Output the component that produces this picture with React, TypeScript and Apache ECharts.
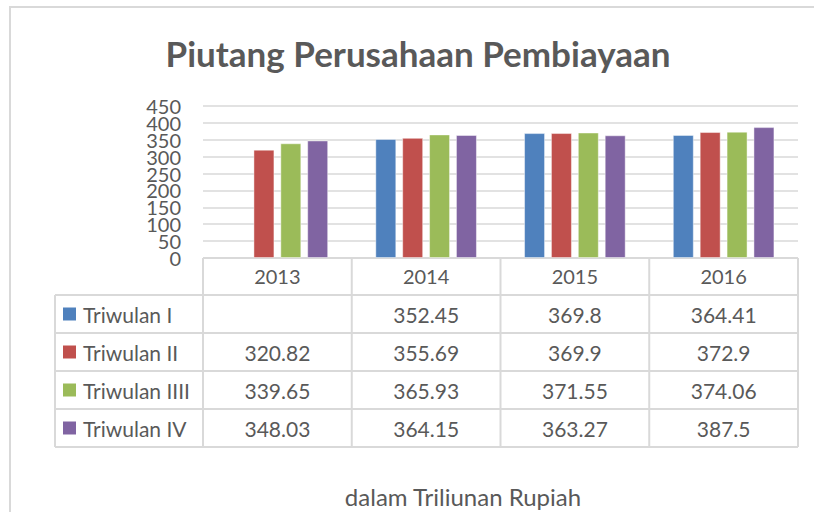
import React, { useEffect, useRef } from "react";
import * as echarts from "echarts";

const title = "Piutang Perusahaan Pembiayaan";
const footnote = "dalam Triliunan Rupiah";
const years = ["2013", "2014", "2015", "2016"];
const seriesNames = ["Triwulan I", "Triwulan II", "Triwulan IIII", "Triwulan IV"];
const triwulanI: (number | null)[] = [null, 352.45, 369.8, 364.41];
const triwulanII: (number | null)[] = [320.82, 355.69, 369.9, 372.9];
const triwulanIII: (number | null)[] = [339.65, 365.93, 371.55, 374.06];
const triwulanIV: (number | null)[] = [348.03, 364.15, 363.27, 387.5];
const colors = ["#4F81BD", "#C0504D", "#9BBB59", "#8064A2"];
const yTicks = [0, 50, 100, 150, 200, 250, 300, 350, 400, 450];
const yMax = 450;
const yStep = 50;

const FONT = "Lato, 'Open Sans', sans-serif";
const TEXT = "#595959";
const LINE = "#D9D9D9";

export default function App() {
  const ref = useRef<HTMLDivElement>(null);
  useEffect(() => {
    if (!ref.current) return;
    const chart = echarts.init(ref.current, null, { renderer: "svg" });
    const allSeries = [triwulanI, triwulanII, triwulanIII, triwulanIV];

    const gLeft = 203, gRight = 798, gTop = 106, gBottom = 258;
    const colW = (gRight - gLeft) / years.length;
    const headerBottom = 295;
    const rowH = 38;
    const tableLeft = 55;
    const tableBottom = headerBottom + rowH * seriesNames.length;

    const graphics: any[] = [];
    graphics.push({
      type: "polyline",
      shape: { points: [[10, 600], [10, 7], [830, 7]] },
      style: { fill: "none", stroke: LINE, lineWidth: 2 },
      silent: true,
    });
    for (let i = 0; i <= years.length; i++) {
      const x = gLeft + colW * i;
      graphics.push({
        type: "line",
        shape: { x1: x, y1: gBottom, x2: x, y2: tableBottom },
        style: { stroke: LINE, lineWidth: 2 },
        silent: true,
      });
    }
    graphics.push({
      type: "line",
      shape: { x1: tableLeft, y1: headerBottom, x2: tableLeft, y2: tableBottom },
      style: { stroke: LINE, lineWidth: 2 },
      silent: true,
    });
    graphics.push({
      type: "line",
      shape: { x1: gLeft, y1: gBottom, x2: gRight, y2: gBottom },
      style: { stroke: LINE, lineWidth: 2 },
      silent: true,
    });
    for (let r = 0; r <= seriesNames.length; r++) {
      const y = headerBottom + rowH * r;
      graphics.push({
        type: "line",
        shape: { x1: tableLeft, y1: y, x2: gRight, y2: y },
        style: { stroke: LINE, lineWidth: 2 },
        silent: true,
      });
    }
    seriesNames.forEach((name, r) => {
      const cy = headerBottom + rowH * r + rowH / 2;
      graphics.push({
        type: "rect",
        shape: { x: 63, y: cy - 6.5, width: 13, height: 13 },
        style: { fill: colors[r] },
        silent: true,
      });
      graphics.push({
        type: "text",
        x: 83,
        y: cy,
        style: { text: name, fill: TEXT, font: `21px ${FONT}`, textAlign: "left", textVerticalAlign: "middle" },
        silent: true,
      });
      allSeries[r].forEach((v, c) => {
        if (v == null) return;
        graphics.push({
          type: "text",
          x: gLeft + colW * c + colW / 2,
          y: cy,
          style: { text: String(v), fill: TEXT, font: `21px ${FONT}`, textAlign: "center", textVerticalAlign: "middle" },
          silent: true,
        });
      });
    });
    graphics.push({
      type: "text",
      x: 418,
      y: 53,
      style: { text: title, fill: TEXT, font: `bold 35px ${FONT}`, textAlign: "center", textVerticalAlign: "middle" },
      silent: true,
    });
    graphics.push({
      type: "text",
      x: 463,
      y: 496,
      style: { text: footnote, fill: TEXT, font: `24px ${FONT}`, textAlign: "center", textVerticalAlign: "middle" },
      silent: true,
    });

    chart.setOption({
      animation: false,
      backgroundColor: "#ffffff",
      grid: { left: gLeft, right: 814 - gRight, top: gTop, bottom: 512 - gBottom, containLabel: false },
      xAxis: {
        type: "category",
        data: years,
        axisLine: { show: false },
        axisTick: { show: false },
        axisLabel: { color: TEXT, fontSize: 20, fontFamily: FONT, margin: 8, verticalAlign: "top" },
      },
      yAxis: {
        type: "value",
        min: 0,
        max: yMax,
        interval: yStep,
        axisLine: { show: false },
        axisTick: { show: false },
        axisLabel: { show: false },
        splitLine: { lineStyle: { color: LINE, width: 1.5 } },
      },
      series: allSeries.map((d, i) => ({
        type: "bar",
        name: seriesNames[i],
        data: d,
        barWidth: 21,
        barGap: "28%",
        itemStyle: { color: colors[i], borderColor: "rgba(255,255,255,0.45)", borderWidth: 1 },
      })),
      graphic: graphics,
    });

    // y-axis tick labels placed through the axis' own scale
    const labelGraphics = yTicks.map((v) => {
      const py = chart.convertToPixel({ yAxisIndex: 0 }, v) as number;
      return {
        type: "text",
        x: gLeft - 22,
        y: py,
        style: { text: String(v), fill: TEXT, font: `20px ${FONT}`, textAlign: "right", textVerticalAlign: "middle" },
        silent: true,
      };
    });
    chart.setOption({ graphic: [...graphics, ...labelGraphics] });

    return () => chart.dispose();
  }, []);
  return (
    <div
      ref={ref}
      style={{ position: "absolute", left: 0, top: 0, width: 814, height: 512 }}
    />
  );
}
